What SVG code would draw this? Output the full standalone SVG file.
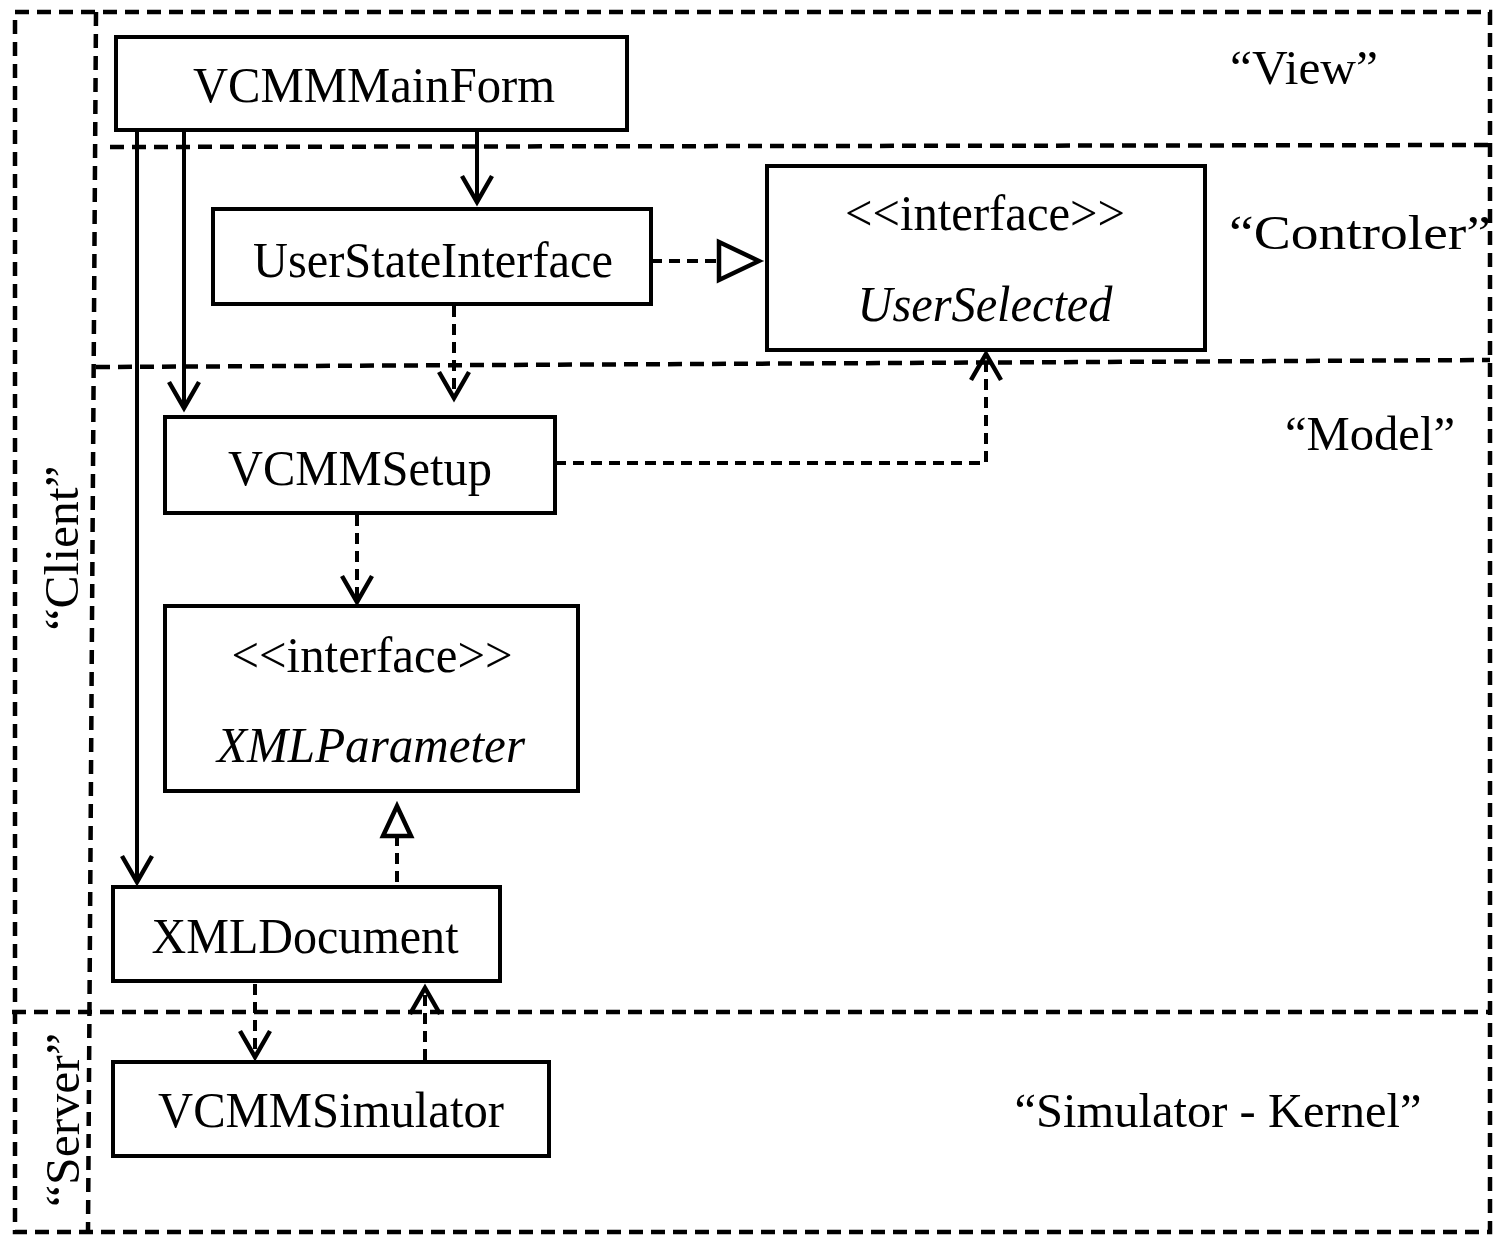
<svg xmlns="http://www.w3.org/2000/svg" width="1497" height="1235" viewBox="0 0 1497 1235">
<defs>
<style>
.frame{fill:none;stroke:#000;stroke-width:4.5;stroke-dasharray:14 8}
.box{fill:#fff;stroke:#000;stroke-width:4}
.t{font-family:"Liberation Serif","Times New Roman",serif;font-size:50px;fill:#000}
.i{font-style:italic}
.lbl{font-family:"Liberation Serif","Times New Roman",serif;font-size:48px;fill:#000}
.solid{fill:none;stroke:#000;stroke-width:4}
.dash{fill:none;stroke:#000;stroke-width:4;stroke-dasharray:11 7}
</style>
<marker id="open" markerUnits="userSpaceOnUse" viewBox="-30 -20 34 40" markerWidth="34" markerHeight="40" refX="0" refY="0" orient="auto" overflow="visible">
<path d="M-26,-15 L0,0 L-26,15" fill="none" stroke="#000" stroke-width="4.5"/>
</marker>
<marker id="tri" markerUnits="userSpaceOnUse" viewBox="-44 -24 48 48" markerWidth="48" markerHeight="48" refX="0" refY="0" orient="auto" overflow="visible">
<path d="M-40,-19 L0,0 L-40,19 Z" fill="#fff" stroke="#000" stroke-width="4.5"/>
</marker>
<marker id="tri2" markerUnits="userSpaceOnUse" viewBox="-44 -24 48 48" markerWidth="48" markerHeight="48" refX="0" refY="0" orient="auto" overflow="visible">
<path d="M-30,-14 L0,0 L-30,14 Z" fill="#fff" stroke="#000" stroke-width="4.5"/>
</marker>
</defs>
<rect width="1497" height="1235" fill="#fff"/>
<g id="frames">
<rect class="frame" x="15" y="12" width="1475" height="1220"/>
<path class="frame" d="M96,12 L88,1232"/>
<path class="frame" d="M110,147 L1490,145"/>
<path class="frame" d="M96,367 L1490,360"/>
<path class="frame" d="M12,1012 L1490,1012"/>
</g>
<g id="labels">
<text class="lbl" x="1304" y="84" text-anchor="middle" textLength="148" lengthAdjust="spacingAndGlyphs">“View”</text>
<text class="lbl" x="1360" y="249" text-anchor="middle" font-size="56" textLength="262" lengthAdjust="spacingAndGlyphs">“Controler”</text>
<text class="lbl" x="1370" y="450" text-anchor="middle" textLength="170" lengthAdjust="spacingAndGlyphs">“Model”</text>
<text class="lbl" x="1218" y="1127" text-anchor="middle" textLength="407" lengthAdjust="spacingAndGlyphs">“Simulator - Kernel”</text>
<text class="lbl" transform="translate(78,548) rotate(-90)" text-anchor="middle" textLength="165" lengthAdjust="spacingAndGlyphs">“Client”</text>
<text class="lbl" transform="translate(79,1120) rotate(-90)" text-anchor="middle" textLength="174" lengthAdjust="spacingAndGlyphs">“Server”</text>
</g>
<g id="connectors">
<path class="solid" d="M477,130 L477,202" marker-end="url(#open)"/>
<path class="solid" d="M184,130 L184,408" marker-end="url(#open)"/>
<path class="solid" d="M137,130 L137,882" marker-end="url(#open)"/>
<path class="dash" d="M651,261 L759,261" marker-end="url(#tri)"/>
<path class="dash" d="M454,306 L454,398" marker-end="url(#open)"/>
<path class="dash" d="M555,463 L986,463 L986,354" marker-end="url(#open)"/>
<path class="dash" d="M357,515 L357,602" marker-end="url(#open)"/>
<path class="dash" d="M397,882 L397,806" marker-end="url(#tri2)"/>
<path class="dash" d="M255,984 L255,1057" marker-end="url(#open)"/>
<path class="dash" d="M425,1060 L425,988" marker-end="url(#open)"/>
</g>
<g id="VCMMMainForm">
<rect class="box" x="116" y="37" width="511" height="93"/>
<text class="t" x="374" y="102" text-anchor="middle" textLength="362" lengthAdjust="spacingAndGlyphs">VCMMMainForm</text>
</g>
<g id="UserStateInterface">
<rect class="box" x="213" y="209" width="438" height="95"/>
<text class="t" x="433" y="277" text-anchor="middle" textLength="360" lengthAdjust="spacingAndGlyphs">UserStateInterface</text>
</g>
<g id="UserSelected">
<rect class="box" x="767" y="166" width="438" height="184"/>
<text class="t" x="985" y="230" text-anchor="middle" textLength="280" lengthAdjust="spacingAndGlyphs">&lt;&lt;interface&gt;&gt;</text>
<text class="t i" x="985" y="321" text-anchor="middle" textLength="255" lengthAdjust="spacingAndGlyphs">UserSelected</text>
</g>
<g id="VCMMSetup">
<rect class="box" x="165" y="417" width="390" height="96"/>
<text class="t" x="360" y="485" text-anchor="middle" textLength="264" lengthAdjust="spacingAndGlyphs">VCMMSetup</text>
</g>
<g id="XMLParameter">
<rect class="box" x="165" y="606" width="413" height="185"/>
<text class="t" x="372" y="672" text-anchor="middle" textLength="281" lengthAdjust="spacingAndGlyphs">&lt;&lt;interface&gt;&gt;</text>
<text class="t i" x="371" y="762" text-anchor="middle" textLength="308" lengthAdjust="spacingAndGlyphs">XMLParameter</text>
</g>
<g id="XMLDocument">
<rect class="box" x="113" y="887" width="387" height="94"/>
<text class="t" x="305" y="953" text-anchor="middle" textLength="307" lengthAdjust="spacingAndGlyphs">XMLDocument</text>
</g>
<g id="VCMMSimulator">
<rect class="box" x="113" y="1062" width="436" height="94"/>
<text class="t" x="331" y="1127" text-anchor="middle" textLength="346" lengthAdjust="spacingAndGlyphs">VCMMSimulator</text>
</g>
</svg>
